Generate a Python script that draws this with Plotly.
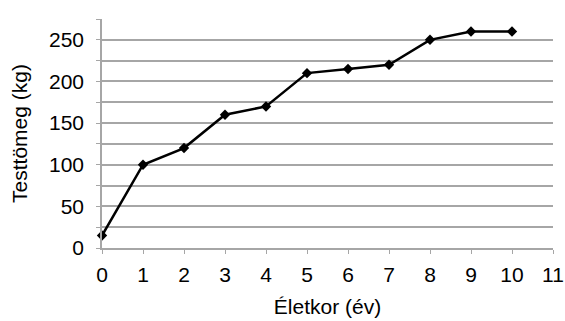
import plotly.graph_objects as go

ages = [0, 1, 2, 3, 4, 5, 6, 7, 8, 9, 10]
mass = [15, 100, 120, 160, 170, 210, 215, 220, 250, 260, 260]

x_ticks = list(range(0, 12))
x_labels = [str(v) for v in x_ticks]
y_ticks = list(range(0, 276, 25))
y_labels = [str(v) if v % 50 == 0 else "" for v in y_ticks]

FONT = "Liberation Sans, Arial, sans-serif"
GRID = "#a6a6a6"
FS = 21

fig = go.Figure()
fig.add_trace(go.Scatter(
    x=ages, y=mass, mode="lines+markers",
    line=dict(color="black", width=2.5),
    marker=dict(symbol="diamond", size=8, color="black"),
    showlegend=False, cliponaxis=False,
))

fig.update_layout(
    width=565, height=321,
    margin=dict(l=102, r=12, t=19, b=73),
    paper_bgcolor="white", plot_bgcolor="white",
    font=dict(family=FONT, size=FS, color="black"),
)
fig.update_xaxes(
    range=[0, 11], tickvals=x_ticks, ticktext=x_labels,
    automargin=False, ticklabeloverflow="allow",
    showgrid=False, zeroline=False,
    showline=True, linecolor=GRID, linewidth=1.5,
    ticks="outside", ticklen=4, tickcolor=GRID, tickwidth=1,
    ticklabelstandoff=3,
    title=dict(text="Életkor (év)", standoff=14, font=dict(size=FS)),
)
fig.update_yaxes(
    range=[0, 275], tickvals=y_ticks, ticktext=y_labels,
    automargin=False, ticklabeloverflow="allow",
    showgrid=True, gridcolor=GRID, gridwidth=1.5, zeroline=False,
    showline=True, linecolor=GRID, linewidth=1.5,
    ticks="outside", ticklen=4, tickcolor=GRID, tickwidth=1,
    ticklabelstandoff=8,
    title=dict(text="Testtömeg (kg)", standoff=16, font=dict(size=FS)),
)

fig.write_html("out.html", config={"displayModeBar": False},
               post_script="document.body.style.margin='0';")
